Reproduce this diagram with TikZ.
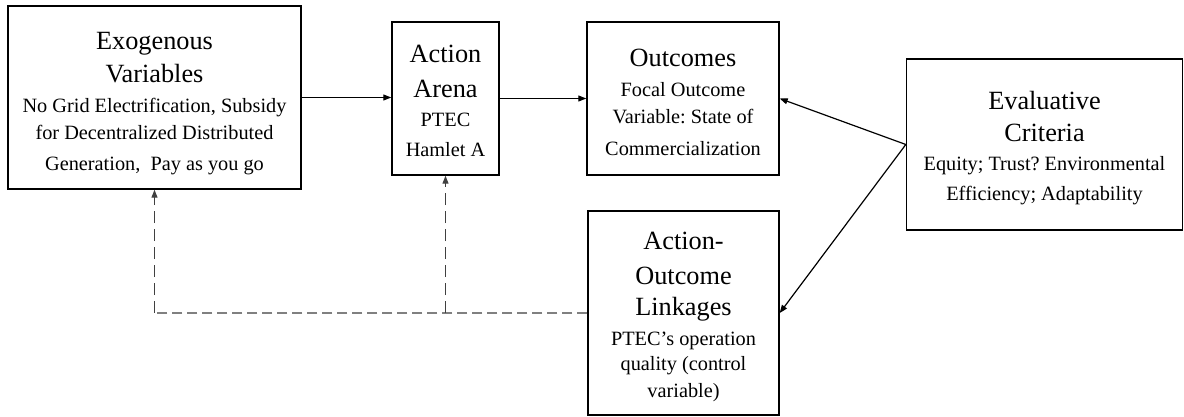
\documentclass[tikz,border=0pt]{standalone}
\usepackage{fontspec}
\setmainfont{Liberation Serif}
\usetikzlibrary{arrows.meta}
\newcommand{\ttl}[1]{{\fontsize{26.3}{27}\selectfont #1}}
\tikzset{
  box/.style={draw=black, line width=1.4pt, rectangle, inner sep=0pt},
  txt/.style={inner sep=0pt, align=center, font=\frenchspacing\fontsize{20.3}{27}\selectfont},
  arr/.style={line width=1.2pt, -{Triangle[length=8pt,width=6pt]}},
  dashh/.style={draw=black!50, line width=2pt, dash pattern=on 10pt off 5pt},
  dashv/.style={draw=black!75, line width=1.2pt, dash pattern=on 12pt off 6pt, -{Triangle[length=8pt,width=6pt]}}
}
\begin{document}
\begin{tikzpicture}[x=1pt,y=-1pt]
\useasboundingbox (0,0) rectangle (1184,417);
\node[box, minimum width=293pt, minimum height=183pt] (exo) at (154.5,97.5) {};
\node[txt] (exot) at (154.5,103.5)
  {\ttl{Exogenous}\\[6pt]\ttl{Variables}\\[3pt]No Grid Electrification, Subsidy\\for Decentralized Distributed\\[4pt]Generation,\ \ Pay as you go};
\node[box, minimum width=107pt, minimum height=153pt] (arena) at (445.5,98.5) {};
\node[txt] (arenat) at (445.5,101)
  {\ttl{Action}\\[8pt]\ttl{Arena}\\[2pt]PTEC\\[3pt]Hamlet A};
\node[box, minimum width=192pt, minimum height=153pt] (out) at (683,98.5) {};
\node[txt] (outt) at (683,102)
  {\ttl{Outcomes}\\[3pt]Focal Outcome\\Variable: State of\\[5pt]Commercialization};
\node[box, minimum width=276pt, minimum height=171pt] (eval) at (1044.5,144.5) {};
\node[txt] (evalt) at (1044.5,148.5)
  {\ttl{Evaluative}\\[5pt]\ttl{Criteria}\\[2pt]Equity; Trust? Environmental\\[3pt]Efficiency; Adaptability};
\node[box, minimum width=191pt, minimum height=204pt] (link) at (683.5,313) {};
\node[txt] (linkt) at (683.5,317)
  {\ttl{Action-}\\[8pt]\ttl{Outcome}\\[4pt]\ttl{Linkages}\\[3pt]PTEC’s operation\\[-2pt]quality (control\\variable)};
\draw[arr] (exo.east) -- (arena.west |- exo.east);
\draw[arr] (arena.east) -- (out.west |- arena.east);
\draw[arr] (eval.west) -- (out.east);
\draw[arr] (eval.west) -- (link.east);
\coordinate (c1) at (exo.south |- link.west);
\coordinate (c2) at (arena.south |- link.west);
\draw[dashh] (link.west) -- (c1);
\draw[dashv] (c1) -- (exo.south);
\draw[dashv] (c2) -- (arena.south);
\end{tikzpicture}
\end{document}
